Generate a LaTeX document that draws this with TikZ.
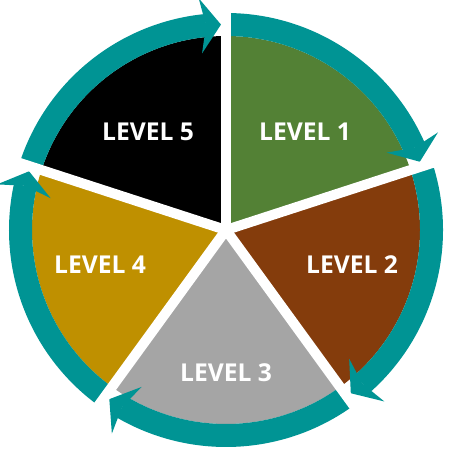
\documentclass[tikz,border=0pt]{standalone}
\usepackage{fontspec}
\setsansfont{Open Sans}
\usepackage{tikz}
\usetikzlibrary{arrows.meta,bending}
\definecolor{lvgreen}{HTML}{538135}
\definecolor{lvbrown}{HTML}{843C0C}
\definecolor{lvgray}{HTML}{A5A5A5}
\definecolor{lvgold}{HTML}{BF9000}
\definecolor{lvteal}{HTML}{009494}
\begin{document}
\begin{tikzpicture}[scale=0.03,
ring/.style={draw=lvteal,line width=0.69cm,-{Stealth[length=0.62cm,width=1.66cm,inset=0.17cm,line width=0pt]}},
gap/.style={draw=white,line width=0.3cm},
lbl/.style={text=white,font=\sffamily\bfseries\fontsize{21}{25}\selectfont}]
\useasboundingbox (-226,-220) rectangle (224,230);
% pie
\fill[lvgreen] (0,0) -- (18:194) arc[start angle=18,end angle=90,radius=194] -- cycle;
\fill[lvbrown] (0,0) -- (-54:194) arc[start angle=-54,end angle=18,radius=194] -- cycle;
\fill[lvgray] (0,0) -- (-126:194) arc[start angle=-126,end angle=-54,radius=194] -- cycle;
\fill[lvgold] (0,0) -- (162:194) arc[start angle=162,end angle=234,radius=194] -- cycle;
\fill[black] (0,0) -- (90:194) arc[start angle=90,end angle=162,radius=194] -- cycle;
% ring arrows
\foreach \a/\b in {162/91.4,90/19.4,18/-52.6,-54/-124.6,-126/-196.6}
  \draw[ring] (\a:205.5) arc[start angle=\a,end angle=\b,radius=205.5];
\foreach \a in {90,18,-54,-126,162}
  \draw[gap] (0,0) -- (\a:226);
\node[lbl] (l1) at (79,98) {LEVEL 1};
\node[lbl] (l2) at (126,-35) {LEVEL 2};
\node[lbl] (l3) at (0,-143) {LEVEL 3};
\node[lbl] (l4) at (-126,-35) {LEVEL 4};
\node[lbl] (l5) at (-78,98) {LEVEL 5};
\end{tikzpicture}
\end{document}
